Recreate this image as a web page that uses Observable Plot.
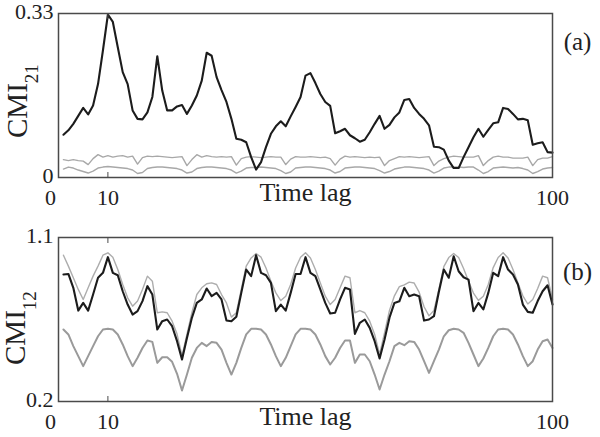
<!DOCTYPE html>
<html><head><meta charset="utf-8">
<script src="https://cdn.jsdelivr.net/npm/d3@7"></script>
<script src="https://cdn.jsdelivr.net/npm/@observablehq/plot@0.6"></script>
<style>
body{margin:0;background:#fff}
#chart{position:relative;width:600px;height:437px;font-family:"Liberation Serif","Times New Roman",serif;background:#fff}
#chart svg{position:absolute;left:0;display:block;overflow:visible}
</style></head><body><div id="chart"></div>
<script>
// ---- Panel (a): CMI_21 ----
const cmi21 = [0.086,0.095,0.108,0.124,0.140,0.127,0.145,0.188,0.256,0.328,
0.313,0.262,0.212,0.188,0.135,0.118,0.117,0.131,0.162,0.244,
0.175,0.135,0.135,0.143,0.146,0.128,0.145,0.165,0.195,0.251,
0.245,0.202,0.176,0.152,0.118,0.078,0.076,0.071,0.041,0.016,
0.031,0.061,0.088,0.103,0.113,0.103,0.123,0.142,0.162,0.205,
0.210,0.190,0.168,0.152,0.144,0.089,0.093,0.098,0.085,0.079,
0.072,0.076,0.091,0.108,0.124,0.098,0.106,0.121,0.131,0.156,
0.158,0.140,0.128,0.118,0.105,0.062,0.061,0.056,0.034,0.019,
0.019,0.041,0.061,0.081,0.098,0.082,0.096,0.109,0.111,0.140,
0.138,0.128,0.117,0.118,0.115,0.066,0.069,0.071,0.051,0.050];
const surrA1 = [0.036,0.034,0.036,0.034,0.033,0.026,0.038,0.046,0.041,0.044,
0.041,0.043,0.044,0.041,0.043,0.027,0.040,0.043,0.042,0.043,
0.042,0.041,0.040,0.041,0.042,0.024,0.036,0.046,0.041,0.044,
0.042,0.041,0.042,0.041,0.042,0.025,0.038,0.041,0.042,0.041,
0.040,0.041,0.042,0.041,0.041,0.026,0.037,0.042,0.041,0.041,
0.042,0.041,0.040,0.041,0.038,0.025,0.037,0.043,0.041,0.042,
0.041,0.040,0.041,0.040,0.041,0.024,0.034,0.038,0.042,0.041,
0.042,0.041,0.040,0.041,0.042,0.024,0.033,0.038,0.041,0.043,
0.042,0.041,0.041,0.041,0.044,0.024,0.034,0.041,0.043,0.041,
0.041,0.039,0.039,0.039,0.041,0.024,0.036,0.039,0.039,0.042];
const surrA2 = [0.017,0.021,0.019,0.015,0.012,0.009,0.013,0.019,0.021,0.022,
0.021,0.020,0.019,0.018,0.015,0.008,0.010,0.018,0.020,0.021,
0.021,0.020,0.019,0.018,0.015,0.009,0.011,0.018,0.020,0.021,
0.021,0.020,0.019,0.018,0.015,0.009,0.013,0.019,0.020,0.020,
0.021,0.020,0.019,0.018,0.014,0.008,0.011,0.019,0.020,0.021,
0.021,0.020,0.019,0.018,0.015,0.009,0.012,0.019,0.020,0.021,
0.021,0.020,0.019,0.018,0.014,0.009,0.012,0.017,0.019,0.021,
0.021,0.020,0.019,0.018,0.015,0.009,0.013,0.019,0.021,0.021,
0.021,0.020,0.021,0.021,0.015,0.008,0.012,0.019,0.020,0.021,
0.020,0.019,0.020,0.018,0.015,0.008,0.012,0.017,0.019,0.020];

// ---- Panel (b): CMI_12 ----
const cmi12 = [0.897,0.900,0.824,0.699,0.741,0.699,0.787,0.879,0.906,0.992,
0.906,0.893,0.805,0.732,0.677,0.696,0.751,0.833,0.787,0.595,
0.641,0.650,0.613,0.531,0.430,0.549,0.659,0.741,0.760,0.820,
0.778,0.796,0.760,0.645,0.640,0.665,0.796,0.924,0.888,1.003,
0.906,0.893,0.851,0.696,0.732,0.699,0.796,0.900,0.900,0.992,
0.906,0.888,0.815,0.741,0.683,0.687,0.760,0.824,0.815,0.571,
0.632,0.650,0.604,0.531,0.436,0.540,0.660,0.741,0.750,0.824,
0.778,0.787,0.778,0.644,0.650,0.668,0.802,0.924,0.879,0.997,
0.915,0.882,0.869,0.696,0.741,0.705,0.796,0.906,0.888,0.992,
0.924,0.897,0.842,0.732,0.692,0.687,0.751,0.805,0.838,0.732];
const surrB1 = [1.003,0.943,0.879,0.815,0.760,0.824,0.888,0.943,1.003,1.016,
0.992,0.924,0.842,0.769,0.723,0.751,0.815,0.888,0.860,0.687,
0.692,0.687,0.641,0.570,0.450,0.568,0.687,0.787,0.824,0.846,
0.851,0.842,0.787,0.741,0.663,0.687,0.815,0.943,0.988,1.012,
0.992,0.933,0.860,0.796,0.754,0.778,0.842,0.933,0.992,1.016,
0.988,0.924,0.851,0.778,0.732,0.760,0.824,0.888,0.879,0.687,
0.699,0.687,0.641,0.568,0.458,0.577,0.700,0.780,0.830,0.840,
0.855,0.850,0.800,0.720,0.670,0.700,0.815,0.940,0.990,1.012,
0.990,0.930,0.860,0.795,0.755,0.778,0.842,0.935,0.990,1.016,
0.988,0.924,0.850,0.780,0.735,0.760,0.820,0.888,0.879,0.760];
const surrB2 = [0.595,0.568,0.504,0.449,0.394,0.449,0.504,0.558,0.595,0.599,
0.595,0.568,0.513,0.449,0.394,0.440,0.494,0.535,0.527,0.412,
0.443,0.443,0.418,0.352,0.260,0.348,0.440,0.494,0.522,0.504,
0.527,0.522,0.485,0.412,0.348,0.412,0.494,0.568,0.599,0.599,
0.595,0.568,0.513,0.449,0.394,0.440,0.504,0.568,0.599,0.599,
0.595,0.568,0.513,0.449,0.403,0.440,0.494,0.535,0.535,0.412,
0.458,0.458,0.421,0.348,0.266,0.348,0.421,0.504,0.522,0.509,
0.531,0.527,0.485,0.421,0.357,0.421,0.485,0.558,0.591,0.599,
0.595,0.577,0.522,0.458,0.394,0.436,0.494,0.558,0.595,0.599,
0.595,0.568,0.513,0.449,0.394,0.421,0.485,0.531,0.540,0.494];

const xTicks = [10, 100];
const xZeroLabel = [0];
const yTicksA = [0, 0.33];
const yTicksB = [0.2, 1.1];
const xLabel = "Time lag";

const lagOf = (arr) => arr.map((v, i) => ({lag: i + 1, v}));
const FONT = "'Liberation Serif', 'Times New Roman', serif";

function panel(o) {
  return Plot.plot({
    width: 600, height: o.height,
    marginTop: o.mt, marginBottom: o.mb, marginLeft: 58, marginRight: 48,
    x: {domain: [0, 100]},
    y: {domain: o.ydomain},
    style: {fontFamily: FONT, fontSize: "22px", background: "white", color: "#222", overflow: "visible"},
    marks: [
      ...o.lines.map(l => Plot.line(lagOf(l.data), {x: "lag", y: "v", stroke: l.color, strokeWidth: l.w})),
      Plot.frame({stroke: "#4a4a4a", strokeWidth: 1.5}),
      Plot.axisX({anchor: "bottom", ticks: xTicks, tickSize: 0, tickPadding: 12, tickFormat: d => String(d), label: null, fontSize: 22}),
      Plot.axisX({anchor: "bottom", ticks: [10], tickSize: -5, tickFormat: () => "", label: null, stroke: "#4a4a4a"}),
      Plot.axisX({anchor: "top", ticks: [10], tickSize: -5, tickFormat: () => "", label: null, stroke: "#4a4a4a"}),
      Plot.text(xZeroLabel, {x: d => d, frameAnchor: "bottom", lineAnchor: "top", dy: 12, dx: -8, text: d => String(d), fontSize: 22}),
      Plot.axisY({ticks: o.yticks, tickSize: 0, tickPadding: 5, dy: -2, tickFormat: d => String(d), label: null, fontSize: 22}),
      Plot.text([xLabel], {frameAnchor: "bottom", lineAnchor: "middle", dy: 15, fontSize: 26, text: d => d}),
      Plot.text([o.tag], {frameAnchor: "top-right", lineAnchor: "middle", textAnchor: "middle", dx: 25, dy: o.tagDy, fontSize: 25, text: d => d})
    ]
  });
}

const chart = document.getElementById("chart");

const pa = panel({
  height: 218, mt: 13, mb: 41, ydomain: [0, 0.33], yticks: yTicksA, tag: "(a)", tagDy: 28,
  lines: [
    {data: surrA1, color: "#a8a8a8", w: 1.4},
    {data: surrA2, color: "#a8a8a8", w: 1.4},
    {data: cmi21, color: "#1c1c1c", w: 2.1}
  ]
});
pa.style.top = "0px";
chart.appendChild(pa);

const pb = panel({
  height: 219, mt: 19, mb: 36, ydomain: [0.2, 1.1], yticks: yTicksB, tag: "(b)", tagDy: 34,
  lines: [
    {data: surrB2, color: "#9a9a9a", w: 2},
    {data: surrB1, color: "#adadad", w: 1.4},
    {data: cmi12, color: "#1c1c1c", w: 2.1}
  ]
});
pb.style.top = "218px";
chart.appendChild(pb);

function yLabel(svg, x, y, sub) {
  const t = d3.select(svg).append("text")
    .attr("transform", `translate(${x},${y}) rotate(-90)`)
    .style("font-family", FONT)
    .attr("fill", "#222")
    .attr("text-anchor", "start");
  t.append("tspan").attr("font-size", 29).text("CMI");
  t.append("tspan").attr("font-size", 19).attr("dy", 11).text(sub);
}
yLabel(pa, 27, 138, "21");
yLabel(pb, 25, 147, "12");
</script></body></html>
